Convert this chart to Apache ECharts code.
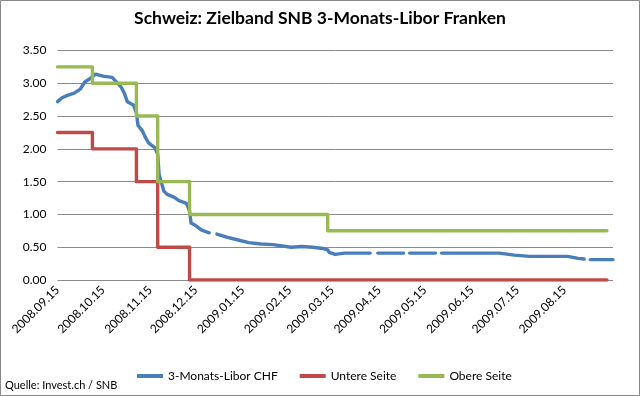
<!DOCTYPE html>
<html><head><meta charset="utf-8">
<script src="https://cdn.jsdelivr.net/npm/echarts@6/dist/echarts.min.js"></script>
<style>html,body{margin:0;padding:0;background:#fff}#c{width:640px;height:396px}</style>
</head><body><div id="c"></div>
<script>
const titleText = 'Schweiz: Zielband SNB 3-Monats-Libor Franken';
const sourceText = 'Quelle: Invest.ch / SNB';
const seriesNames = ['3-Monats-Libor CHF', 'Untere Seite', 'Obere Seite'];
const tickLabels = ['2008.09.15','2008.10.15','2008.11.15','2008.12.15','2009.01.15','2009.02.15','2009.03.15','2009.04.15','2009.05.15','2009.06.15','2009.07.15','2009.08.15'];

const liborDates = ['2008-09-15','2008-09-18','2008-09-22','2008-09-26','2008-09-30','2008-10-03','2008-10-07','2008-10-10','2008-10-15','2008-10-21','2008-10-23','2008-10-27','2008-10-29','2008-10-31','2008-11-04','2008-11-06','2008-11-07','2008-11-10','2008-11-12','2008-11-14','2008-11-18','2008-11-19','2008-11-20','2008-11-21','2008-11-24','2008-11-26','2008-12-01','2008-12-04','2008-12-09','2008-12-10','2008-12-11','2008-12-12','2008-12-15','2008-12-19','2008-12-24','2008-12-25','2008-12-29','2009-01-05','2009-01-12','2009-01-19','2009-01-27','2009-02-04','2009-02-16','2009-02-23','2009-03-02','2009-03-09','2009-03-12','2009-03-13','2009-03-17','2009-03-23','2009-04-09','2009-04-10','2009-04-14','2009-05-01','2009-05-04','2009-05-05','2009-05-22','2009-05-25','2009-05-26','2009-07-03','2009-07-13','2009-07-23','2009-08-17','2009-08-24','2009-08-28','2009-08-31','2009-09-01','2009-09-16'];
const liborValues = [2.72,2.78,2.82,2.85,2.91,3.02,3.08,3.14,3.11,3.09,3.04,2.94,2.85,2.72,2.67,2.55,2.36,2.27,2.17,2.09,2.02,1.97,1.92,1.60,1.36,1.31,1.26,1.21,1.17,1.14,1.05,0.87,0.83,0.76,0.72,null,0.70,0.65,0.61,0.57,0.55,0.54,0.50,0.51,0.50,0.48,0.46,0.42,0.39,0.41,0.41,null,0.41,0.41,null,0.41,0.41,null,0.41,0.41,0.38,0.36,0.36,0.33,0.32,null,0.31,0.31];

const bandDates = ['2008-09-15','2008-10-08','2008-11-06','2008-11-20','2008-12-11','2009-03-12','2009-09-12'];
const lowerValues = [2.25, 2.00, 1.50, 0.50, 0.00, 0.00, 0.00];
const upperValues = [3.25, 3.00, 2.50, 1.50, 1.00, 0.75, 0.75];

function ts(s) { const p = s.split(/[-.]/).map(Number); return Date.UTC(p[0], p[1] - 1, p[2]); }
function pairs(dates, vals) { return dates.map((d, i) => [ts(d), vals[i]]); }
const labelMap = {};
tickLabels.forEach(l => { labelMap[ts(l)] = l; });

const FONT = 'Lato, "Noto Sans", sans-serif';
const chart = echarts.init(document.getElementById('c'), null, { renderer: 'canvas' });
chart.setOption({
  backgroundColor: '#ffffff',
  animation: false,
  title: { text: titleText, left: 'center', top: 9, padding: 0, textStyle: { fontFamily: FONT, fontSize: 17.5, fontWeight: 'bold', color: '#000' } },
  grid: { left: 57.5, right: 27, top: 50.5, bottom: 116, containLabel: false },
  legend: {
    left: 137, top: 370, padding: 0, icon: 'rect', itemWidth: 26, itemHeight: 4, itemGap: 22,
    textStyle: { fontFamily: FONT, fontSize: 12, color: '#000' },
    data: seriesNames
  },
  graphic: [
    { type: 'text', left: 5, top: 380, style: { text: sourceText, font: '11px ' + FONT, fill: '#000' } },
    { type: 'rect', silent: true, shape: { x: 0.5, y: 0.5, width: 639, height: 395 }, style: { fill: 'none', stroke: '#898989', lineWidth: 1 } }
  ],
  xAxis: {
    type: 'value', min: ts('2008-09-15'), max: ts('2009-09-16'), scale: true,
    axisLine: { show: false }, axisTick: { show: false }, splitLine: { show: false },
    axisLabel: {
      customValues: tickLabels.map(ts), rotate: 45, margin: 8,
      fontFamily: FONT, fontSize: 12, color: '#000',
      formatter: v => labelMap[v] || ''
    }
  },
  yAxis: {
    type: 'value', min: 0, max: 3.5, interval: 0.5,
    axisLine: { show: false }, axisTick: { show: false },
    splitLine: { show: true, lineStyle: { color: '#8a8a8a', width: 1 } },
    axisLabel: { margin: 11, fontFamily: FONT, fontSize: 12, color: '#000', formatter: v => v.toFixed(2) }
  },
  series: [
    { name: seriesNames[0], type: 'line', data: pairs(liborDates, liborValues), showSymbol: false, connectNulls: false,
      color: '#4A7EBB', lineStyle: { width: 3.4, color: '#4A7EBB', cap: 'round', join: 'round' } },
    { name: seriesNames[1], type: 'line', step: 'end', data: pairs(bandDates, lowerValues), showSymbol: false,
      color: '#BE4B48', lineStyle: { width: 3.4, color: '#BE4B48', cap: 'round', join: 'round' } },
    { name: seriesNames[2], type: 'line', step: 'end', data: pairs(bandDates, upperValues), showSymbol: false,
      color: '#98B954', lineStyle: { width: 3.4, color: '#98B954', cap: 'round', join: 'round' } }
  ]
});
</script></body></html>
